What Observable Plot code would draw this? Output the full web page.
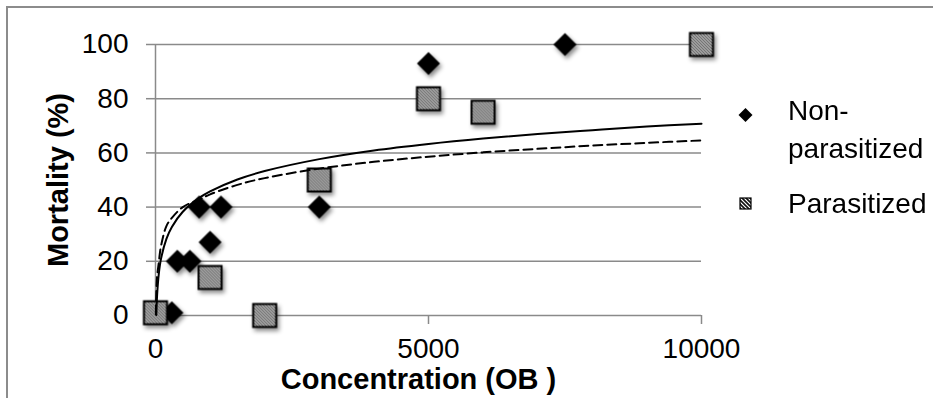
<!DOCTYPE html>
<html>
<head>
<meta charset="utf-8">
<script src="https://cdn.jsdelivr.net/npm/d3@7"></script>
<script src="https://cdn.jsdelivr.net/npm/@observablehq/plot@0.6"></script>
<style>
  html, body { margin: 0; padding: 0; background: #fff; }
  #wrap { position: relative; width: 933px; height: 398px; overflow: hidden; font-family: "Liberation Sans", Arial, sans-serif; }
  #frame { position: absolute; left: 6px; top: 6px; width: 1000px; height: 500px; border-top: 2px solid #8c8c8c; border-left: 2px solid #8c8c8c; }
  #legend { position: absolute; left: 0; top: 0; pointer-events: none; }
</style>
</head>
<body>
<svg width="0" height="0" style="position:absolute">
  <defs>
    <pattern id="hatch" patternUnits="userSpaceOnUse" width="3" height="3">
      <rect width="3" height="3" fill="#c4c4c4"></rect>
      <path d="M-1,-1 L4,4 M-1,2 L1,4 M2,-1 L4,1" stroke="#262626" stroke-width="1"></path>
    </pattern>
    <pattern id="hatchLegend" patternUnits="userSpaceOnUse" width="4" height="4">
      <rect width="4" height="4" fill="#ffffff"></rect>
      <path d="M-1,-1 L5,5 M-1,3 L1,5 M3,-1 L5,1" stroke="#111" stroke-width="1.6"></path>
    </pattern>
  </defs>
</svg>
<div id="wrap">
  <div id="frame"></div>
  <div id="chart"></div>
</div>
<script>
// ---- Data ----
const nonParasitizedX = [300, 400, 630, 800, 1000, 1200, 3000, 5000, 7500];
const nonParasitizedY = [1, 20, 20, 40, 27, 40, 40, 93, 100];

const parasitizedX = [0, 1000, 2000, 3000, 5000, 6000, 10000];
const parasitizedY = [1, 14, 0, 50, 80, 75, 100];

// Trendlines
const trendSolidX = [15, 30, 60, 100, 200, 300, 500, 800, 1000, 1500, 2000, 3000, 4000, 5000, 6000, 7000, 8000, 9000, 10000];
const trendSolidY = [0.2, 7.7, 15.3, 20.8, 28.3, 32.7, 38.3, 43.4, 45.8, 50.2, 53.3, 57.7, 60.9, 63.3, 65.3, 67.0, 68.4, 69.7, 70.8];

const trendDashedX = [6, 15, 30, 60, 100, 200, 300, 500, 800, 1000, 1500, 2000, 3000, 4000, 5000, 6000, 7000, 8000, 9000, 10000];
const trendDashedY = [0.5, 8.5, 14.5, 19.5, 25.5, 33, 36, 40, 42.8, 44.7, 48.2, 50.7, 54.2, 56.7, 58.6, 60.2, 61.5, 62.7, 63.7, 64.6];

const xTicks = [0, 5000, 10000];
const yTicks = [0, 20, 40, 60, 80, 100];

const xTitle = "Concentration (OB )";
const yTitle = "Mortality (%)";
const legendLabels = ["Non-\nparasitized", "Parasitized"];

// ---- Tables built from the arrays ----
const np = nonParasitizedX.map((x, i) => ({x, y: nonParasitizedY[i]}));
const pa = parasitizedX.map((x, i) => ({x, y: parasitizedY[i]}));
const tSolid = trendSolidX.map((x, i) => ({x, y: trendSolidY[i]}));
const tDashed = trendDashedX.map((x, i) => ({x, y: trendDashedY[i]}));

const grid = "#8a8a8a";

const chart = Plot.plot({
  width: 933,
  height: 398,
  marginLeft: 155,
  marginRight: 232,
  marginTop: 44,
  marginBottom: 83,
  x: {domain: [0, 10000]},
  y: {domain: [0, 100]},
  style: {fontFamily: "'Liberation Sans', Arial, sans-serif", fontSize: "28px", color: "#000", background: "transparent", overflow: "visible"},
  marks: [
    Plot.gridY(yTicks, {stroke: grid, strokeOpacity: 1, strokeWidth: 1.5}),
    Plot.ruleX([0], {stroke: grid, strokeWidth: 1.5}),
    Plot.axisY({ticks: yTicks, tickSize: 9, tickPadding: 18, stroke: grid, strokeWidth: 1.5, label: null, fontSize: 28}),
    Plot.axisX({ticks: xTicks, tickSize: 9, tickPadding: 14, stroke: grid, strokeWidth: 1.5, label: null, fontSize: 28, tickFormat: d => String(d)}),
    Plot.dot(np, {x: "x", y: "y", symbol: "diamond2", r: 10.4, fill: "#000", stroke: "none"}),
    Plot.dot(pa, {x: "x", y: "y", symbol: "square", r: 13, fill: "url(#hatch)", stroke: "#000", strokeWidth: 2}),
    Plot.line(tSolid, {x: "x", y: "y", curve: "catmull-rom", stroke: "#000", strokeWidth: 2}),
    Plot.line(tDashed, {x: "x", y: "y", curve: "catmull-rom", stroke: "#000", strokeWidth: 2, strokeDasharray: "9,5"}),
    Plot.text([xTitle], {text: d => d, frameAnchor: "bottom", textAnchor: "middle", dx: -10, dy: 64, fontWeight: "bold", fontSize: 29, lineAnchor: "middle"}),
    Plot.text([yTitle], {text: d => d, frameAnchor: "left", textAnchor: "middle", dx: -97, rotate: -90, fontWeight: "bold", fontSize: 29, lineAnchor: "middle"})
  ]
});
document.getElementById("chart").appendChild(chart);

d3.select(chart).selectAll('g[aria-label="dot"]').style("filter", "drop-shadow(2px 3px 2px rgba(0,0,0,0.45))");

// ---- Legend ----
const lg = d3.select("#wrap").append("svg").attr("id", "legend").attr("width", 933).attr("height", 398)
  .style("font-family", "'Liberation Sans', Arial, sans-serif").style("font-size", "28px");
// diamond
lg.append("path").attr("d", "M745.5,108 L752.5,115 L745.5,122 L738.5,115 Z").attr("fill", "#000");
const t1 = lg.append("text").attr("x", 788).attr("y", 120);
legendLabels[0].split("\n").forEach((s, i) => t1.append("tspan").attr("x", 788).attr("dy", i ? 38 : 0).text(s));
// square
lg.append("rect").attr("x", 740).attr("y", 198).attr("width", 11).attr("height", 11).attr("fill", "url(#hatchLegend)").attr("stroke", "#000").attr("stroke-width", 1.2);
lg.append("text").attr("x", 788).attr("y", 213).text(legendLabels[1]);
</script>
</body>
</html>
